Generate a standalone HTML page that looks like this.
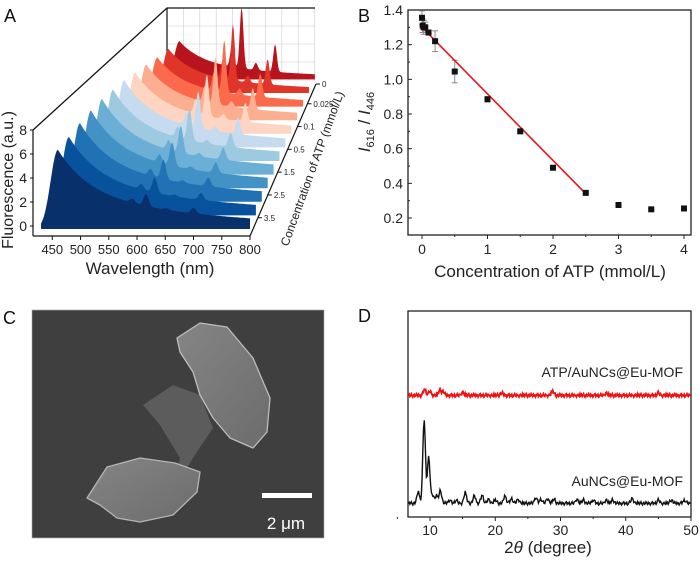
<!DOCTYPE html>
<html><head><meta charset="utf-8">
<style>
html,body{margin:0;padding:0;background:#fff;}
body{width:700px;height:558px;overflow:hidden;font-family:"Liberation Sans",Arial,sans-serif;}
svg text{font-family:"Liberation Sans",Arial,sans-serif;}
</style></head>
<body>
<svg id="fig" width="700" height="558" viewBox="0 0 700 558" xmlns="http://www.w3.org/2000/svg">
<g id="pA"></g>
<g id="pB"></g>
<g id="pC"></g>
<g id="pD"></g>
</svg>
<script>
// ---------- Panel A data ----------
const aConc = ["3.5","3","2.5","2","1.5","1","0.5","0.2","0.1","0.05","0.025","0"]; // front -> back
const aBlue = [6.6,6.7,6.9,7.0,7.0,6.8,6.6,6.2,5.8,5.3,4.9,4.4];
const aRed  = [1.0,1.3,1.7,2.1,2.5,3.0,3.6,4.2,4.9,5.6,6.2,7.0];
const aColors = ["#08306b","#08519c","#2171b5","#4292c6","#6baed6","#9ecae1","#c6dbef","#fdd5c2","#fcae91","#fb6a4a","#e0362a","#b8141d"];
const aTickLabels = ["3.5","2.5","1.5","0.5","0.1","0.025","0"];
const aTickPos = [0.12,0.27,0.42,0.57,0.72,0.87,1.0];
const aXTicks = [450,500,550,600,650,700,750,800];
const aYTicks = [0,2,4,6,8];
// ---------- Panel B data ----------
const bX = [0,0.01,0.025,0.05,0.1,0.2,0.5,1,1.5,2,2.5,3,3.5,4];
const bY = [1.355,1.31,1.30,1.30,1.27,1.22,1.045,0.885,0.70,0.49,0.345,0.275,0.25,0.255];
const bErr = [0.04,0.04,0.04,0.03,0.01,0.06,0.065,0.015,0.01,0.005,0.005,0.005,0.005,0.005];
const bFitX = [0,2.5];
const bFitY = [1.30,0.34];
const bXTicks = [0,1,2,3,4];
const bYTicks = [0.2,0.4,0.6,0.8,1.0,1.2,1.4];
// ---------- Panel D data ----------
const dXTicks = [10,20,30,40,50];
const dBlackPeaks = [[8.2,14],[9.1,100],[9.8,55],[10.4,10],[11,9],[11.6,15],[13,4],[14,4],[15.4,13],[16.8,9],[18,10],[19,5],[20,4],[21.5,9],[22.5,6],[23.5,5],[26.2,7],[27,5],[28,6],[29,5],[32.5,5],[33.5,4],[35,4],[37,4],[38,4],[41,6],[45,4],[47,4],[49,4]];
const dRedPeaks = [[9.2,8],[10,5],[11.5,6],[12,5],[15,4],[21,3],[28.8,5],[37,3],[45,3]];
const dNoise = [2,4,1,3,5,2,0,3,4,1,2,5,3,1,4,2,3,0,2,4,5,1,3,2,4,0,1,3,5,2,1,4,3,2,0,3,4,2,1,5];

const NS="http://www.w3.org/2000/svg";
function el(parent,tag,attrs,text){const e=document.createElementNS(NS,tag);for(const k in attrs)e.setAttribute(k,attrs[k]);if(text!==undefined)e.textContent=text;parent.appendChild(e);return e;}

// ================= Panel A =================
(function(){
const g=document.getElementById('pA');
const t=el(g,'text',{x:4,y:22,'font-size':18,fill:'#111'},'A');


const bp=el(g,'g',{});


for(let i=0;i<=9;i++){el(bp,'line',{x1:167+i*16.4,y1:8,x2:167+i*16.4,y2:80,stroke:'#ccc','stroke-width':0.6});}
for(let j=0;j<=4;j++){el(bp,'line',{x1:167,y1:8+j*18,x2:315,y2:8+j*18,stroke:'#ccc','stroke-width':0.6});}
el(g,'polyline',{points:'33,130 167,8 315,8',fill:'none',stroke:'#111','stroke-width':1.3});
el(g,'line',{x1:167,y1:8,x2:167,y2:80,stroke:'#111','stroke-width':1.2});
function slice(i){return {x0:41+i*11.5,x1:250+i*5.9,base:229-i*13.6,s:12-i*0.3};}
function spec(l,B,R){let v;
 if(l<460)v=B*Math.exp(-Math.pow(l-460,2)/(2*13*13));
 else v=B*(0.55*Math.exp(-(l-460)/55)+0.45*Math.exp(-(l-460)/280));
 const pk=[[592,0.35],[616,1],[652,0.12],[700,0.45]];
 for(const p of pk)v+=R*p[1]*Math.exp(-Math.pow(l-p[0],2)/(2*4.5*4.5));
 return v;}
for(let i=aBlue.length-1;i>=0;i--){
 const S=slice(i);const xs=l=>S.x0+(l-430)/(800-430)*(S.x1-S.x0);
 let pts=[xs(430).toFixed(1)+','+S.base];
 for(let l=430;l<=800;l+=2){pts.push(xs(l).toFixed(1)+','+(S.base-spec(l,aBlue[i],aRed[i])*S.s).toFixed(1));}
 pts.push(xs(800).toFixed(1)+','+S.base);
 const p=el(g,'polygon',{points:pts.join(' '),fill:aColors[i]});
 
 
}
el(g,'line',{x1:33,y1:130,x2:33,y2:236,stroke:'#111','stroke-width':1.2});
el(g,'line',{x1:33,y1:236,x2:250,y2:236,stroke:'#111','stroke-width':1.2});
el(g,'line',{x1:250,y1:236,x2:316,y2:84,stroke:'#111','stroke-width':1.2});
const ys=v=>226-v*12;
aYTicks.forEach(v=>{el(g,'line',{x1:30,y1:ys(v),x2:33,y2:ys(v),stroke:'#111'});
 const tt=el(g,'text',{x:27,y:ys(v)+5,'font-size':14,'text-anchor':'end',fill:'#222'},String(v));
 
 });
const xf=l=>41+(l-430)/370*209;
aXTicks.forEach(v=>{el(g,'line',{x1:xf(v),y1:236,x2:xf(v),y2:240,stroke:'#111'});
 const tt=el(g,'text',{x:xf(v),y:254,'font-size':13,'text-anchor':'middle',fill:'#222'},String(v));
 
 });
const xt=el(g,'text',{x:150,y:274,'font-size':17,'text-anchor':'middle',fill:'#222'},'Wavelength (nm)');


const yt=el(g,'text',{x:0,y:0,'font-size':16,'text-anchor':'middle',fill:'#222',transform:'translate(13,180) rotate(-90)'},'Fluorescence (a.u.)');


aTickPos.forEach((tp,k)=>{const x=250+66*tp,y=236-152*tp;
 el(g,'line',{x1:x,y1:y,x2:x+4,y2:y,stroke:'#111'});
 const tt=el(g,'text',{x:x+6,y:y+3,'font-size':8,fill:'#222'},aTickLabels[k]);
 
 });
const dt=el(g,'text',{x:0,y:0,'font-size':12,'text-anchor':'middle',fill:'#222',transform:'translate(316,170) rotate(-70)'},'Concentration of ATP (mmol/L)');


})();

// ================= Panel B =================
(function(){
const g=document.getElementById('pB');
const L=408,R=691,T=10,Bt=235;
const xs=v=>422+v*(684-422)/4;
const ys=v=>218-(v-0.2)*(208/1.2);
const t=el(g,'text',{x:358,y:22,'font-size':18,fill:'#111'},'B');


const fr=el(g,'rect',{x:L,y:T,width:R-L,height:Bt-T,fill:'none',stroke:'#222','stroke-width':1.3});


bYTicks.forEach(v=>{el(g,'line',{x1:L,y1:ys(v),x2:L+4,y2:ys(v),stroke:'#222'});
 el(g,'line',{x1:L,y1:ys(v+0.1),x2:L+2,y2:ys(v+0.1),stroke:'#222'});
 const tt=el(g,'text',{x:L-5,y:ys(v)+5,'font-size':14,'text-anchor':'end',fill:'#222'},v.toFixed(1));
 
 });
bXTicks.forEach(v=>{el(g,'line',{x1:xs(v),y1:Bt,x2:xs(v),y2:Bt+4,stroke:'#222'});
 el(g,'line',{x1:xs(v+0.5),y1:Bt,x2:xs(v+0.5),y2:Bt+2,stroke:'#222'});
 const tt=el(g,'text',{x:xs(v),y:254,'font-size':14,'text-anchor':'middle',fill:'#222'},String(v));
 
 });
const xt=el(g,'text',{x:550,y:277,'font-size':17,'text-anchor':'middle',fill:'#222'},'Concentration of ATP (mmol/L)');


const yt=el(g,'text',{x:0,y:0,'font-size':17,'text-anchor':'middle',fill:'#222','font-style':'italic',transform:'translate(370,122) rotate(-90)'});
yt.innerHTML='I<tspan font-size="11" font-style="normal" dy="4">616</tspan><tspan font-style="normal" dy="-4">  /  </tspan>I<tspan font-size="11" font-style="normal" dy="4">446</tspan>';


bX.forEach((x,i)=>{const e=bErr[i];
 el(g,'line',{x1:xs(x),y1:ys(bY[i]-e),x2:xs(x),y2:ys(bY[i]+e),stroke:'#888'});
 el(g,'line',{x1:xs(x)-3,y1:ys(bY[i]-e),x2:xs(x)+3,y2:ys(bY[i]-e),stroke:'#888'});
 el(g,'line',{x1:xs(x)-3,y1:ys(bY[i]+e),x2:xs(x)+3,y2:ys(bY[i]+e),stroke:'#888'});});
const fl=el(g,'line',{x1:xs(bFitX[0]),y1:ys(bFitY[0]),x2:xs(bFitX[1]),y2:ys(bFitY[1]),stroke:'#e8141b','stroke-width':1.6});


bX.forEach((x,i)=>{const r=el(g,'rect',{x:xs(x)-3,y:ys(bY[i])-3,width:6,height:6,fill:'#111'});
 
 });
})();

// ================= Panel C =================
(function(){
const g=document.getElementById('pC');
const t=el(g,'text',{x:3,y:324,'font-size':18,fill:'#111'},'C');


const defs=el(g,'defs',{});
const pg=el(defs,'linearGradient',{id:'pG',x1:'0',y1:'0',x2:'1',y2:'1'});
el(pg,'stop',{offset:'0','stop-color':'#858585'});el(pg,'stop',{offset:'1','stop-color':'#6c6c6c'});
const bg=el(g,'rect',{x:32,y:310,width:292,height:228,fill:'#3f3f3f',stroke:'#aaa','stroke-width':0.6});


const p2=el(g,'path',{d:'M143,405 L173,385 L200,395 L213,428 L193,458 L182,476 L176,474 L180,458 L160,425 Z',fill:'#5c5c5c'});


const p1=el(g,'path',{d:'M177,338 L200,323 L227,327 L253,358 L270,398 L267,432 L253,448 L230,438 L213,418 L200,395 L193,372 L180,352 Z',fill:'url(#pG)',stroke:'#bdbdbd','stroke-width':1.3,'stroke-linejoin':'round'});


const p3=el(g,'path',{d:'M87,498 L107,467 L140,458 L175,463 L200,472 L197,492 L173,515 L140,522 L117,518 L100,505 Z',fill:'url(#pG)',stroke:'#b5b5b5','stroke-width':1.3,'stroke-linejoin':'round'});


const sb=el(g,'rect',{x:262,y:493,width:50,height:5,fill:'#fff'});


const st=el(g,'text',{x:286,y:529,'font-size':17,'text-anchor':'middle',fill:'#fff'},'2 μm');


})();

// ================= Panel D =================
(function(){
const g=document.getElementById('pD');
const L=408,R=691,T=311,Bt=517;
const xs=v=>430+(v-10)*(691-430)/40;
const t=el(g,'text',{x:358,y:322,'font-size':18,fill:'#111'},'D');


const fr=el(g,'rect',{x:L,y:T,width:R-L,height:Bt-T,fill:'none',stroke:'#222','stroke-width':1.3});


dXTicks.forEach(v=>{el(g,'line',{x1:xs(v),y1:Bt,x2:xs(v),y2:Bt+4,stroke:'#222'});
 el(g,'line',{x1:xs(v-5),y1:Bt,x2:xs(v-5),y2:Bt+2,stroke:'#222'});
 const tt=el(g,'text',{x:xs(v),y:535,'font-size':14,'text-anchor':'middle',fill:'#222'},String(v));
 
 });
const xt=el(g,'text',{x:548,y:553,'font-size':17,'text-anchor':'middle',fill:'#222'});
xt.innerHTML='2<tspan font-style="italic">θ</tspan> (degree)';


function trace(peaks,base,scale,color,width,name){
 let pts=[];let k=0;
 for(let x=6.7;x<=50;x+=0.11){let v=0;
  for(const p of peaks)v+=p[1]*Math.exp(-Math.pow(x-p[0],2)/(2*0.2*0.2));
  v+=dNoise[k%dNoise.length]*0.8;k++;
  pts.push(xs(x).toFixed(1)+','+(base-v*scale).toFixed(1));}
 const pl=el(g,'polyline',{points:pts.join(' '),fill:'none',stroke:color,'stroke-width':width});
 
 }
trace(dRedPeaks,397,0.8,'#f01010',1.8,'xrd-atp-aunc-eu-mof');
trace(dBlackPeaks,505,0.83,'#111',1.4,'xrd-aunc-eu-mof');
const l1=el(g,'text',{x:683,y:377,'font-size':14,'text-anchor':'end',fill:'#222'},'ATP/AuNCs@Eu-MOF');


const l2=el(g,'text',{x:683,y:486,'font-size':14,'text-anchor':'end',fill:'#222'},'AuNCs@Eu-MOF');


})();
</script>
</body></html>
